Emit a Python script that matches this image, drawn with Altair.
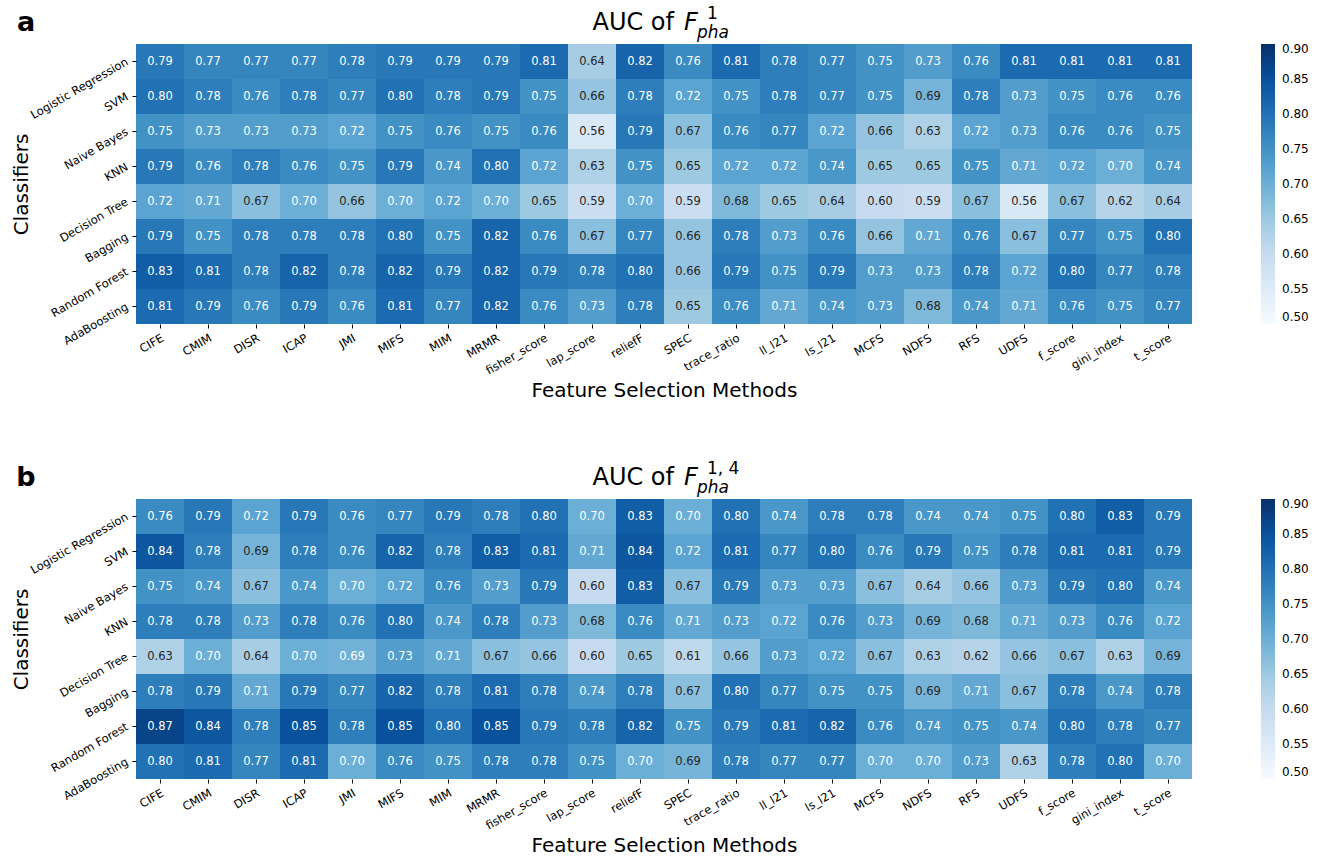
import altair as alt
import pandas as pd

features = ["CIFE", "CMIM", "DISR", "ICAP", "JMI", "MIFS", "MIM", "MRMR",
            "fisher_score", "lap_score", "reliefF", "SPEC", "trace_ratio",
            "ll_l21", "ls_l21", "MCFS", "NDFS", "RFS", "UDFS", "f_score",
            "gini_index", "t_score"]
classifiers = ["Logistic Regression", "SVM", "Naive Bayes", "KNN",
               "Decision Tree", "Bagging", "Random Forest", "AdaBoosting"]

auc_a = [
    [0.79, 0.77, 0.77, 0.77, 0.78, 0.79, 0.79, 0.79, 0.81, 0.64, 0.82, 0.76, 0.81, 0.78, 0.77, 0.75, 0.73, 0.76, 0.81, 0.81, 0.81, 0.81],
    [0.80, 0.78, 0.76, 0.78, 0.77, 0.80, 0.78, 0.79, 0.75, 0.66, 0.78, 0.72, 0.75, 0.78, 0.77, 0.75, 0.69, 0.78, 0.73, 0.75, 0.76, 0.76],
    [0.75, 0.73, 0.73, 0.73, 0.72, 0.75, 0.76, 0.75, 0.76, 0.56, 0.79, 0.67, 0.76, 0.77, 0.72, 0.66, 0.63, 0.72, 0.73, 0.76, 0.76, 0.75],
    [0.79, 0.76, 0.78, 0.76, 0.75, 0.79, 0.74, 0.80, 0.72, 0.63, 0.75, 0.65, 0.72, 0.72, 0.74, 0.65, 0.65, 0.75, 0.71, 0.72, 0.70, 0.74],
    [0.72, 0.71, 0.67, 0.70, 0.66, 0.70, 0.72, 0.70, 0.65, 0.59, 0.70, 0.59, 0.68, 0.65, 0.64, 0.60, 0.59, 0.67, 0.56, 0.67, 0.62, 0.64],
    [0.79, 0.75, 0.78, 0.78, 0.78, 0.80, 0.75, 0.82, 0.76, 0.67, 0.77, 0.66, 0.78, 0.73, 0.76, 0.66, 0.71, 0.76, 0.67, 0.77, 0.75, 0.80],
    [0.83, 0.81, 0.78, 0.82, 0.78, 0.82, 0.79, 0.82, 0.79, 0.78, 0.80, 0.66, 0.79, 0.75, 0.79, 0.73, 0.73, 0.78, 0.72, 0.80, 0.77, 0.78],
    [0.81, 0.79, 0.76, 0.79, 0.76, 0.81, 0.77, 0.82, 0.76, 0.73, 0.78, 0.65, 0.76, 0.71, 0.74, 0.73, 0.68, 0.74, 0.71, 0.76, 0.75, 0.77],
]

auc_b = [
    [0.76, 0.79, 0.72, 0.79, 0.76, 0.77, 0.79, 0.78, 0.80, 0.70, 0.83, 0.70, 0.80, 0.74, 0.78, 0.78, 0.74, 0.74, 0.75, 0.80, 0.83, 0.79],
    [0.84, 0.78, 0.69, 0.78, 0.76, 0.82, 0.78, 0.83, 0.81, 0.71, 0.84, 0.72, 0.81, 0.77, 0.80, 0.76, 0.79, 0.75, 0.78, 0.81, 0.81, 0.79],
    [0.75, 0.74, 0.67, 0.74, 0.70, 0.72, 0.76, 0.73, 0.79, 0.60, 0.83, 0.67, 0.79, 0.73, 0.73, 0.67, 0.64, 0.66, 0.73, 0.79, 0.80, 0.74],
    [0.78, 0.78, 0.73, 0.78, 0.76, 0.80, 0.74, 0.78, 0.73, 0.68, 0.76, 0.71, 0.73, 0.72, 0.76, 0.73, 0.69, 0.68, 0.71, 0.73, 0.76, 0.72],
    [0.63, 0.70, 0.64, 0.70, 0.694, 0.73, 0.71, 0.67, 0.66, 0.60, 0.65, 0.61, 0.66, 0.73, 0.72, 0.67, 0.63, 0.62, 0.66, 0.67, 0.63, 0.69],
    [0.78, 0.79, 0.71, 0.79, 0.77, 0.82, 0.78, 0.81, 0.78, 0.74, 0.78, 0.67, 0.80, 0.77, 0.75, 0.75, 0.69, 0.71, 0.67, 0.78, 0.74, 0.78],
    [0.87, 0.84, 0.78, 0.85, 0.78, 0.85, 0.80, 0.85, 0.79, 0.78, 0.82, 0.75, 0.79, 0.81, 0.82, 0.76, 0.74, 0.75, 0.74, 0.80, 0.78, 0.77],
    [0.80, 0.81, 0.77, 0.81, 0.70, 0.76, 0.75, 0.78, 0.78, 0.75, 0.70, 0.69, 0.78, 0.77, 0.77, 0.70, 0.70, 0.73, 0.63, 0.78, 0.80, 0.70],
]

colorbar_ticks = [0.50, 0.55, 0.60, 0.65, 0.70, 0.75, 0.80, 0.85, 0.90]
blues = ["#f7fbff", "#deebf7", "#c6dbef", "#9ecae1", "#6baed6",
         "#4292c6", "#2171b5", "#08519c", "#08306b"]

FONT = "DejaVu Sans"
W, H = 1056, 280


def panel(values, letter, sup):
    rows = []
    for i, c in enumerate(classifiers):
        for j, f in enumerate(features):
            rows.append({"clf": c, "feat": f, "auc": values[i][j]})
    df = pd.DataFrame(rows)
    base = alt.Chart(df)
    x = alt.X("feat:N", sort=features, title="Feature Selection Methods",
              axis=alt.Axis(labelAngle=330, labelAlign="right", labelBaseline="top",
                            labelPadding=4, titleX=W / 2, titleY=66,
                            titleBaseline="middle", titleAlign="center"))
    y = alt.Y("clf:N", sort=classifiers, title="Classifiers",
              axis=alt.Axis(labelAngle=330, labelAlign="right", labelBaseline="middle",
                            labelPadding=5, titleX=-115, titleY=H / 2, titleAngle=270,
                            titleBaseline="middle", titleAlign="center"))
    cscale = alt.Scale(domain=colorbar_ticks, range=blues, interpolate="rgb")
    heat = base.mark_rect().encode(
        x=x, y=y,
        color=alt.Color("auc:Q", title=None, scale=cscale,
                        legend=alt.Legend(orient="right", offset=69, gradientLength=H,
                                          gradientThickness=14, values=colorbar_ticks,
                                          format=".2f", labelFont=FONT, labelFontSize=12,
                                          labelColor="#000000", labelOffset=7,
                                          gradientStrokeWidth=0, direction="vertical")),
    )
    txt = base.mark_text(font=FONT, fontSize=11.5).encode(
        x=x, y=y,
        text=alt.Text("auc:Q", format=".2f"),
        color=alt.condition(alt.datum.auc >= 0.692, alt.value("#ffffff"), alt.value("#262626")),
    )
    one = pd.DataFrame({"t": [0]})
    lab = alt.Chart(one).mark_text(text=letter, font=FONT, fontSize=27, fontWeight="bold",
                                   baseline="middle", align="center").encode(
        x=alt.value(-110), y=alt.value(-21))
    t1 = alt.Chart(one).mark_text(text="AUC of", font=FONT, fontSize=24, align="right",
                                  baseline="alphabetic").encode(x=alt.value(538), y=alt.value(-14))
    t2 = alt.Chart(one).mark_text(text="F", font=FONT, fontSize=24, fontStyle="italic",
                                  align="left", baseline="alphabetic").encode(x=alt.value(548), y=alt.value(-14))
    t3 = alt.Chart(one).mark_text(text=sup, font=FONT, fontSize=17, align="left",
                                  baseline="alphabetic").encode(x=alt.value(571), y=alt.value(-25))
    t4 = alt.Chart(one).mark_text(text="pha", font=FONT, fontSize=17, fontStyle="italic",
                                  align="left", baseline="alphabetic").encode(x=alt.value(561), y=alt.value(-6))
    return alt.layer(heat, txt, lab, t1, t2, t3, t4).properties(width=W, height=H)


chart = alt.vconcat(panel(auc_a, "a", "1"), panel(auc_b, "b", "1, 4"), spacing=60).resolve_scale(
    color="independent").resolve_legend(color="independent").properties(
    padding={"left": 11, "top": 5, "right": 5, "bottom": 5}, background="#ffffff"
).configure_view(stroke=None).configure_axis(
    domain=False, grid=False, ticks=True, tickSize=4, tickColor="#000000", tickWidth=1,
    labelFont=FONT, labelFontSize=11.5, labelColor="#000000",
    titleFont=FONT, titleFontSize=20, titleFontWeight="normal", titleColor="#000000",
)

chart.save("out.html", embed_options={"renderer": "svg", "actions": False})
